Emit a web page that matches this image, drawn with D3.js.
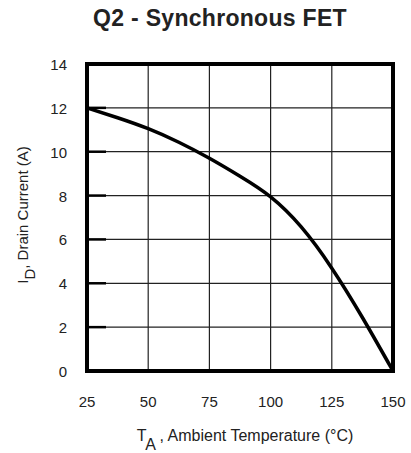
<!DOCTYPE html>
<html>
<head>
<meta charset="utf-8">
<script src="https://cdn.jsdelivr.net/npm/d3@7.9.0/dist/d3.min.js"></script>
<style>
  body { margin: 0; background: #fff; }
  svg { display: block; font-family: "Liberation Sans", Arial, sans-serif; }
</style>
</head>
<body>
<svg id="chart" width="411" height="453"></svg>
<script>
// curve
const temps =   [25, 37.5, 50, 62.5, 75, 87.5, 100, 112.5, 125, 137.5, 150];
const current = [12, 11.55, 11.05, 10.43, 9.7, 8.88, 7.94, 6.57, 4.69, 2.44, 0];
const xTicks = [25, 50, 75, 100, 125, 150];
const yTicks = [0, 2, 4, 6, 8, 10, 12, 14];

const svg = d3.select("#chart");
const plotL = 87, plotR = 393, plotT = 64, plotB = 371;

let x = d3.scaleLinear().domain([25, 150]).range([plotL, plotR]);
let y = d3.scaleLinear().domain([0, 14]).range([plotB, plotT]);

// title
svg.append("text")
    .attr("x", 220).attr("y", 26)
    .attr("text-anchor", "middle")
    .attr("font-size", 23).attr("font-weight", "bold")
    .attr("letter-spacing", 0.3)
    .attr("fill", "#222")
    .text("Q2 - Synchronous FET");

// grid
svg.append("g").selectAll("line").data(xTicks.slice(1, -1)).join("line")
    .attr("x1", d => x(d)).attr("x2", d => x(d))
    .attr("y1", plotT).attr("y2", plotB)
    .attr("stroke", "#222").attr("stroke-width", 1.2);
svg.append("g").selectAll("line").data(yTicks.slice(1, -1)).join("line")
    .attr("x1", plotL).attr("x2", plotR)
    .attr("y1", d => y(d)).attr("y2", d => y(d))
    .attr("stroke", "#222").attr("stroke-width", 1.2);
// short thick ticks on the left edge
svg.append("g").selectAll("line").data(yTicks.slice(1, -1)).join("line")
    .attr("x1", plotL).attr("x2", plotL + 19)
    .attr("y1", d => y(d)).attr("y2", d => y(d))
    .attr("stroke", "#000").attr("stroke-width", 2.5);

// frame
svg.append("rect")
    .attr("x", plotL).attr("y", plotT)
    .attr("width", plotR - plotL).attr("height", plotB - plotT)
    .attr("fill", "none").attr("stroke", "#000").attr("stroke-width", 4);

// tick labels
svg.append("g").selectAll("text").data(yTicks).join("text")
    .attr("x", 67).attr("y", d => y(d) + 6)
    .attr("text-anchor", "end").attr("font-size", 15).attr("fill", "#222")
    .text(d => d);
svg.append("g").selectAll("text").data(xTicks).join("text")
    .attr("x", d => x(d)).attr("y", 407)
    .attr("text-anchor", "middle").attr("font-size", 15).attr("fill", "#222")
    .text(d => d);

// curve
let line = d3.line().x((d, i) => x(temps[i])).y(d => y(d)).curve(d3.curveNatural);
svg.append("path")
    .attr("d", line(current))
    .attr("fill", "none").attr("stroke", "#000").attr("stroke-width", 3.5);

// axis titles
let xt = svg.append("text")
    .attr("x", 245).attr("y", 441)
    .attr("text-anchor", "middle").attr("font-size", 16).attr("fill", "#222");
xt.append("tspan").text("T");
xt.append("tspan").attr("dy", 9).text("A");
xt.append("tspan").attr("dy", -9).text(" , Ambient Temperature (°C)");

let yt = svg.append("text")
    .attr("transform", "translate(28,215) rotate(-90)")
    .attr("text-anchor", "middle").attr("font-size", 15).attr("fill", "#222");
yt.append("tspan").text("I");
yt.append("tspan").attr("dy", 7).text("D");
yt.append("tspan").attr("dy", -7).text(",  Drain Current (A)");
</script>
</body>
</html>
